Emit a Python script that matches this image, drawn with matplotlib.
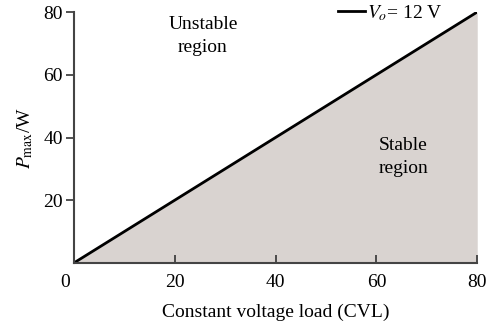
import matplotlib
matplotlib.use("Agg")
import matplotlib.pyplot as plt

# data
cvl = [0, 80]
p_max = [0, 80]
x_ticks = [0, 20, 40, 60, 80]
x_tick_labels = ['', '20', '40', '60', '80']
y_ticks = [20, 40, 60, 80]

plt.rcParams['font.family'] = ['Liberation Serif', 'DejaVu Serif']
plt.rcParams['mathtext.fontset'] = 'stix'

fig = plt.figure(figsize=(4.92, 3.29), dpi=100)
ax = fig.add_axes([0.150, 0.2006, 0.820, 0.7629])

ax.fill_between(cvl, p_max, 0, color='#d9d3d0', linewidth=0)
ax.plot(cvl, p_max, color='black', linewidth=2, label=r'$V_o$= 12 V')

ax.set_xlim(0, 80)
ax.set_ylim(0, 80)
ax.set_xticks(x_ticks)
ax.set_xticklabels(x_tick_labels)
ax.set_yticks(y_ticks)
ax.tick_params(axis='x', direction='in', length=6, width=1.2, labelsize=14, pad=8, colors='#333333', labelcolor='black')
ax.tick_params(axis='y', direction='out', length=6, width=1.2, labelsize=14, pad=2, colors='#333333', labelcolor='black')
for side in ['top', 'right']:
    ax.spines[side].set_visible(False)
for side in ['left', 'bottom']:
    ax.spines[side].set_linewidth(1.5)
    ax.spines[side].set_color('#444444')

# the zero sits a bit left of the corner
ax.text(-1.8, -6.3, '0', fontsize=14, ha='center', va='center')

ax.set_xlabel('Constant voltage load (CVL)', fontsize=14, labelpad=9)
ax.set_ylabel(r'$P_{\mathrm{max}}$/W', fontsize=14, labelpad=6)

ax.text(25.6, 72.4, 'Unstable\nregion', fontsize=14, ha='center', va='center', linespacing=1.45)
ax.text(65.3, 33.8, 'Stable\nregion', fontsize=14, ha='center', va='center', linespacing=1.45)

ax.legend(loc='upper left', bbox_to_anchor=(0.655, 1.035), frameon=False, fontsize=14,
          handlelength=1.4, handletextpad=0.1, borderaxespad=0, borderpad=0)

fig.savefig('out.png', dpi=100)
